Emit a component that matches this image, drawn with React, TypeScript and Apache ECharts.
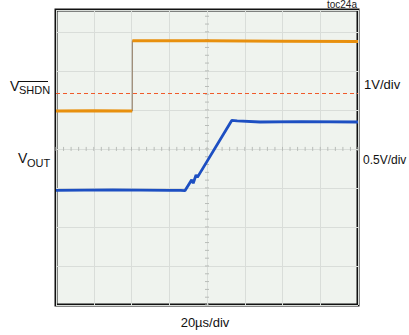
import React, { useEffect, useRef } from "react";
import * as echarts from "echarts";

// Time axis: 20 µs per division, 8 divisions
const TIME_MAX_US = 160;
const TIME_PER_DIV_US = 20;
// Vertical axis in screen divisions (top division partially cropped)
const DIV_MAX = 7.56;
const CENTER_DIV = 4;

// V_SHDN trace (1V/div), [time µs, divisions]
const shdnTrace: number[][] = [
  [0, 4.97],
  [20, 4.98],
  [40.4, 4.97],
  [40.45, 6.77],
  [80, 6.77],
  [120, 6.76],
  [160, 6.75],
];
// V_SHDN reference level (dashed), divisions
const shdnRefDiv = 5.42;

// V_OUT trace (0.5V/div), [time µs, divisions]
const voutTrace: number[][] = [
  [0, 2.94],
  [30, 2.95],
  [60, 2.94],
  [66, 2.94],
  [68.3, 2.93],
  [71.9, 3.21],
  [72.7, 3.12],
  [74.2, 3.33],
  [74.9, 3.27],
  [93.1, 4.73],
  [96, 4.72],
  [108.1, 4.69],
  [130, 4.7],
  [160, 4.69],
];

const FONT = "'Liberation Sans', Arial, sans-serif";

function splitRuns(trace: number[][]): number[][][] {
  const runs: number[][][] = [];
  let cur: number[][] = [];
  trace.forEach((p, i) => {
    if (i > 0 && Math.abs(p[0] - trace[i - 1][0]) < 0.2 && Math.abs(p[1] - trace[i - 1][1]) > 0.5) {
      runs.push(cur);
      cur = [];
    }
    cur.push(p);
  });
  runs.push(cur);
  return runs;
}

export default function App() {
  const ref = useRef<HTMLDivElement>(null);
  useEffect(() => {
    if (!ref.current) return;
    const chart = echarts.init(ref.current, undefined, { renderer: "svg" });

    // decorative minor ticks along the center cross-hair
    const tickData: number[][] = [];
    for (let t = 0; t <= TIME_MAX_US + 0.001; t += TIME_PER_DIV_US / 5) tickData.push([t, CENTER_DIV, 0]);
    for (let d = 0; d <= DIV_MAX; d += 0.2) tickData.push([TIME_MAX_US / 2, d, 1]);

    const shdnRuns = splitRuns(shdnTrace);

    const series: any[] = [
      {
        type: "custom",
        silent: true,
        z: 1,
        data: tickData,
        renderItem: (params: any, api: any) => {
          const p = api.coord([api.value(0), api.value(1)]);
          const vertical = api.value(2) === 0;
          return {
            type: "line",
            shape: vertical
              ? { x1: p[0], y1: p[1] - 2, x2: p[0], y2: p[1] + 2 }
              : { x1: p[0] - 2, y1: p[1], x2: p[0] + 2, y2: p[1] },
            style: { stroke: "#b8bcb8", lineWidth: 1 },
          };
        },
      },
      {
        type: "line",
        data: [
          [0, shdnRefDiv],
          [TIME_MAX_US, shdnRefDiv],
        ],
        symbol: "none",
        z: 2,
        lineStyle: { color: "#f05a2a", type: [4, 3], width: 1.2 },
      },
      {
        type: "line",
        data: shdnTrace,
        symbol: "none",
        z: 3,
        lineStyle: { color: "#8e7860", width: 1 },
      },
      ...shdnRuns.map((run) => ({
        type: "line",
        data: run,
        symbol: "none",
        z: 4,
        lineStyle: { color: "#e8900e", width: 3 },
      })),
      {
        type: "line",
        data: voutTrace,
        symbol: "none",
        z: 5,
        lineStyle: { color: "#1d4fc2", width: 2.8 },
      },
    ];

    chart.setOption({
      animation: false,
      grid: {
        left: 56,
        top: 10,
        width: 302,
        height: 295,
        show: true,
        borderColor: "#111111",
        borderWidth: 3,
        backgroundColor: "#eff3ee",
        z: 0,
      },
      xAxis: {
        type: "value",
        min: 0,
        max: TIME_MAX_US,
        interval: TIME_PER_DIV_US,
        axisLabel: { show: false },
        axisTick: { show: false },
        axisLine: { show: false },
        splitLine: { show: true, lineStyle: { color: "#d9ddd9", width: 1 } },
      },
      yAxis: {
        type: "value",
        min: 0,
        max: DIV_MAX,
        interval: 1,
        axisLabel: { show: false },
        axisTick: { show: false },
        axisLine: { show: false },
        splitLine: { show: true, lineStyle: { color: "#d9ddd9", width: 1 } },
      },
      series,
      graphic: [
        {
          type: "text",
          x: 357,
          y: 4,
          style: { text: "toc24a", font: `10px ${FONT}`, fill: "#222", align: "right", verticalAlign: "middle" },
        },
        {
          type: "text",
          x: 10,
          y: 86,
          style: { text: "V", font: `14px ${FONT}`, fill: "#111", align: "left", verticalAlign: "middle" },
        },
        {
          type: "text",
          x: 19,
          y: 90,
          style: { text: "SHDN", font: `11px ${FONT}`, fill: "#111", align: "left", verticalAlign: "middle" },
        },
        {
          type: "line",
          shape: { x1: 18, y1: 81.5, x2: 48, y2: 81.5 },
          style: { stroke: "#111", lineWidth: 1 },
        },
        {
          type: "text",
          x: 18,
          y: 157.5,
          style: { text: "V", font: `14px ${FONT}`, fill: "#111", align: "left", verticalAlign: "middle" },
        },
        {
          type: "text",
          x: 27,
          y: 163,
          style: { text: "OUT", font: `11px ${FONT}`, fill: "#111", align: "left", verticalAlign: "middle" },
        },
        {
          type: "text",
          x: 364,
          y: 84,
          style: { text: "1V/div", font: `13px ${FONT}`, fill: "#111", align: "left", verticalAlign: "middle" },
        },
        {
          type: "text",
          x: 363,
          y: 160,
          style: { text: "0.5V/div", font: `12px ${FONT}`, fill: "#111", align: "left", verticalAlign: "middle" },
        },
        {
          type: "text",
          x: 205,
          y: 322,
          style: { text: "20µs/div", font: `13px ${FONT}`, fill: "#111", align: "center", verticalAlign: "middle" },
        },
      ],
    });
    return () => chart.dispose();
  }, []);
  return (
    <div
      ref={ref}
      style={{ position: "fixed", left: 0, top: 0, width: 409, height: 335, background: "#ffffff" }}
    />
  );
}
